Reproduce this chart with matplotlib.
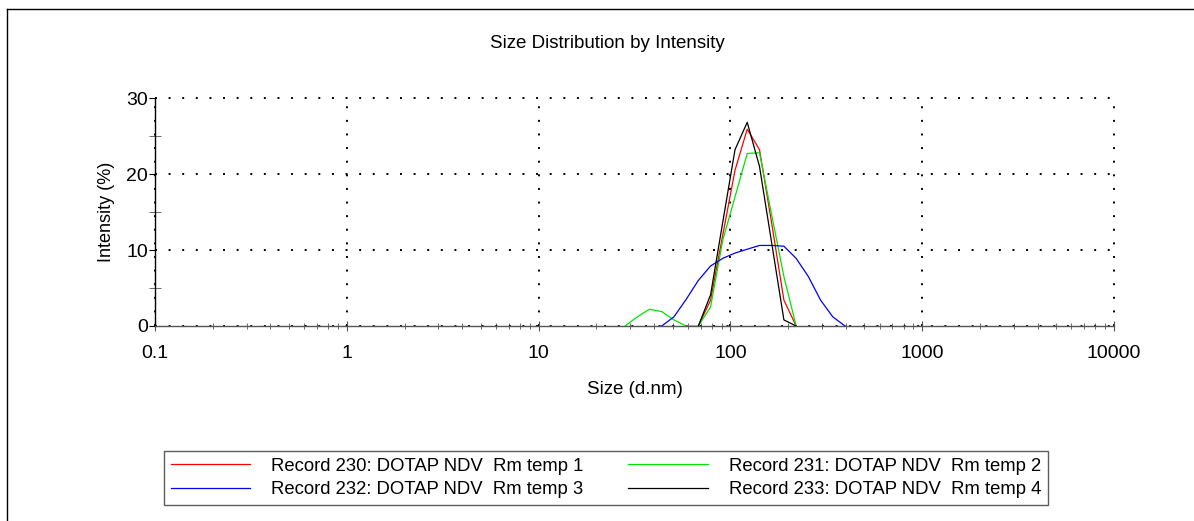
import matplotlib
matplotlib.use("Agg")
import matplotlib.pyplot as plt
from matplotlib.lines import Line2D
from matplotlib.ticker import LogLocator, FixedLocator, NullFormatter

plt.rcParams['font.family'] = ['Liberation Sans', 'DejaVu Sans']

# size bins (d.nm) and intensity (%)
red_x = [68.06, 78.82, 91.28, 105.7, 122.4, 141.8, 164.2, 190.1, 220.2]
red_y = [0, 3.4, 12.0, 20.5, 25.9, 23.2, 13.5, 3.4, 0]

green_x = [28.21, 32.67, 37.84, 43.82, 50.75, 58.77, 68.06, 78.82, 91.28,
           105.7, 122.4, 141.8, 164.2, 190.1, 220.2]
green_y = [0, 1.2, 2.2, 1.9, 0.8, 0, 0, 2.5, 11.3, 17.0, 22.7, 22.8, 14.6, 6.5, 0]

blue_x = [43.82, 50.75, 58.77, 68.06, 78.82, 91.28, 105.7, 122.4, 141.8,
          164.2, 190.1, 220.2, 255.0, 295.3, 342.0, 396.1]
blue_y = [0, 1.2, 3.5, 6.0, 7.9, 8.9, 9.6, 10.1, 10.6, 10.6, 10.5, 8.9, 6.5, 3.4, 1.2, 0]

black_x = [68.06, 78.82, 91.28, 105.7, 122.4, 141.8, 164.2, 190.1, 220.2]
black_y = [0, 4.1, 13.7, 23.2, 26.8, 21.0, 10.9, 0.8, 0]

labels = ["Record 230: DOTAP NDV  Rm temp 1",
          "Record 231: DOTAP NDV  Rm temp 2",
          "Record 232: DOTAP NDV  Rm temp 3",
          "Record 233: DOTAP NDV  Rm temp 4"]
x_ticks = [0.1, 1, 10, 100, 1000, 10000]
x_ticklabels = ["0.1", "1", "10", "100", "1000", "10000"]
y_ticks = [0, 10, 20, 30]

fig = plt.figure(figsize=(11.94, 5.21), dpi=100)
ax = fig.add_axes([155/1194, 1-326/521, (1114-155)/1194, (326-98)/521])

lw = 0.9
l_red, = ax.plot(red_x, red_y, color='#ff0000', lw=lw, zorder=3)
l_green, = ax.plot(green_x, green_y, color='#00e600', lw=lw, zorder=3)
l_blue, = ax.plot(blue_x, blue_y, color='#0000ff', lw=lw, zorder=3)
l_black, = ax.plot(black_x, black_y, color='#000000', lw=lw, zorder=4)

ax.set_xscale('log')
ax.set_xlim(0.1, 10000)
ax.set_ylim(0, 30)
ax.set_xticks(x_ticks)
ax.set_xticklabels(x_ticklabels)
ax.xaxis.set_minor_locator(LogLocator(base=10, subs=range(2, 10)))
ax.xaxis.set_minor_formatter(NullFormatter())
ax.set_yticks(y_ticks)
ax.yaxis.set_minor_locator(FixedLocator([5, 15, 25]))

for s in ['top', 'right']:
    ax.spines[s].set_visible(False)
ax.spines['left'].set_color('black')
ax.spines['bottom'].set_color('#555555')
ax.spines['left'].set_linewidth(1.0)
ax.spines['bottom'].set_linewidth(1.0)

ax.tick_params(axis='x', which='major', direction='inout', length=7, color='#555555',
               labelsize=14, pad=10)
ax.tick_params(axis='x', which='minor', direction='inout', length=4, color='#555555')
ax.tick_params(axis='y', which='major', direction='out', length=4, labelsize=14, pad=1)
ax.tick_params(axis='y', which='minor', direction='inout', length=8, color='#555555')

ax.grid(True, which='major', color='black', linestyle=(0, (1, 6)), linewidth=1.4)
for gl in ax.get_xgridlines() + ax.get_ygridlines():
    gl.set_clip_on(False)

fig.text(607/1194, 1-43/521, "Size Distribution by Intensity", ha='center', va='center',
         fontsize=13.5)
ax.set_xlabel("Size (d.nm)", fontsize=13.5, labelpad=14)
ax.set_ylabel("Intensity (%)", fontsize=13, labelpad=8)

# outer frame (top and left only visible)
fig.add_artist(Line2D([7/1194, 1], [1-9/521, 1-9/521], color='black', lw=1.0))
fig.add_artist(Line2D([7/1194, 7/1194], [1-9/521, 0], color='black', lw=1.0))

# legend: row 1 red / green, row 2 blue / black
leg = fig.legend([l_red, l_blue, l_green, l_black],
                 [labels[0], labels[2], labels[1], labels[3]], ncol=2,
                 loc='center', bbox_to_anchor=(606/1194, 1-478/521),
                 fontsize=13.3, frameon=True, fancybox=False, edgecolor='#333333',
                 handlelength=4.3, handletextpad=1.15, columnspacing=2.4,
                 labelspacing=0.35, borderpad=0.35, borderaxespad=0)
leg.get_frame().set_linewidth(1.0)

fig.savefig("out.png", dpi=100)
